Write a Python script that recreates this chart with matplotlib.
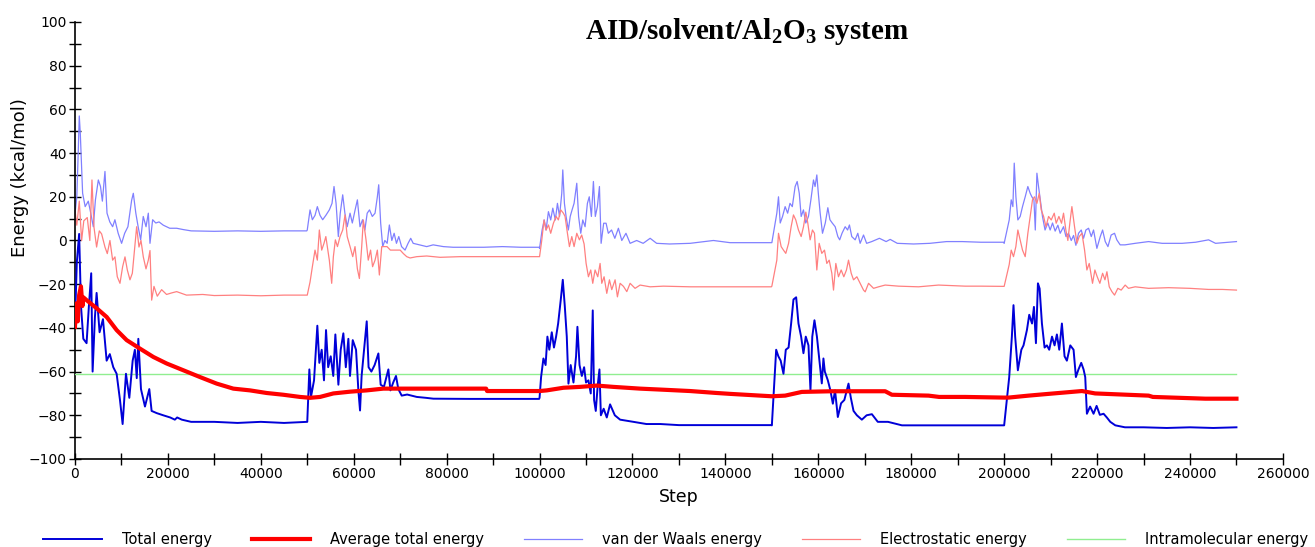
import matplotlib
matplotlib.use("Agg")
import matplotlib.pyplot as plt
from matplotlib.ticker import MultipleLocator

# ---------------- data ----------------
total_steps = [0, 400, 900, 1300, 1800, 2500, 3000, 3500, 3800, 4300, 4660, 5300, 6030, 6820, 7500, 8250,
               8970, 9690, 10260, 10980, 11700, 12420, 12900, 13300, 13640, 14210, 15070, 16000, 16500,
               17590, 19000, 20500, 21500, 22000, 23000, 25000, 30000, 35000, 40000, 45000, 49900,
               50000, 50450, 50800, 51460, 52170, 52600, 53110, 53600, 54040, 54500, 55050, 55600, 56050,
               56700, 57200, 57770, 58300, 58850, 59200, 59790, 60500, 61000, 61360, 61700, 62220, 62800,
               63200, 63800, 64500, 65310, 65800, 66500, 67460, 67900, 68500, 69100, 69600, 70330, 71500,
               73570, 75500, 77150, 85000, 90000, 99900,
               100000, 100330, 100830, 101300, 101690, 102100, 102630, 103100, 103560, 104000, 104570,
               105000, 105430, 105860, 106220, 106700, 107300, 107860, 108150, 108600, 109100, 109590,
               110000, 110520, 111020, 111450, 111740, 112100, 112530, 112890, 113200, 113800, 114470,
               115180, 116200, 117340, 118800, 120200, 123000, 126000, 130000, 140000, 149900,
               150000, 150930, 151400, 151900, 152500, 153000, 153600, 154150, 154650, 155230, 155730,
               156300, 156800, 157300, 157880, 158310, 158700, 159170, 159700, 160200, 160750, 161100,
               161400, 162050, 162600, 163130, 163600, 164200, 164900, 165600, 166500, 167000, 167580,
               168300, 169370, 170400, 171530, 172800, 175000, 178000, 190000, 199900,
               200000, 201090, 201660, 202010, 202370, 202950, 203700, 204170, 204900, 205400, 206000,
               206410, 206840, 207270, 207630, 208130, 208700, 209200, 209700, 210300, 210850, 211350,
               211860, 212430, 213000, 213500, 214230, 214940, 215440, 216000, 216590, 217090, 217450,
               217810, 218500, 219240, 219900, 220600, 221400, 222100, 222840, 223920, 226000, 230000,
               235000, 240000, 245000, 250000]
total_energy = [-38, -10, 3, -30, -45, -47, -30, -15, -60, -35, -24, -42, -36, -55, -52, -58,
                -61, -73, -84, -61, -72, -55, -50, -63, -45, -68, -76, -68, -78,
                -79, -80, -81, -82, -81, -82, -83, -83, -83.5, -83, -83.5, -83,
                -83, -59, -71.6, -64, -39, -56, -50, -64, -41, -58, -53, -62, -43,
                -66, -50, -42.5, -58, -45, -62, -45.6, -50, -68.6, -77.8, -62, -50, -37,
                -58, -60, -57, -51.7, -66, -67, -59, -68.6, -65, -62, -68, -71, -70.5,
                -71.6, -72, -72.4, -72.5, -72.5, -72.5,
                -72, -62.5, -54, -57, -44, -50, -42, -49, -44, -38, -27,
                -18, -30, -44, -65.5, -57, -65, -53, -39.5, -57, -62, -58,
                -65, -64, -70, -32, -73, -78, -66, -59, -80, -77, -81,
                -75, -80, -82, -82.5, -83, -84, -84, -84.5, -84.5, -84.5,
                -84.6, -50, -53, -55, -61, -50, -49, -38, -27, -26, -38,
                -44, -51.6, -44, -48, -68.6, -44, -36.5, -44, -54, -65.4, -54,
                -60, -64, -68.6, -74.7, -68.6, -80.8, -74.5, -73, -65.5, -72, -78,
                -80, -82, -80, -79.5, -83, -83, -84.6, -84.6, -84.6,
                -84.6, -62.5, -44, -29.6, -44, -59.4, -50, -48, -41, -34, -38,
                -30.4, -47, -19.6, -22, -38, -49, -48, -50, -44, -48, -43,
                -50, -38, -53, -55, -48, -50, -62.5, -59, -56, -59, -62.5,
                -79.3, -76, -79.3, -75.7, -79.8, -79.3, -81, -83, -84.6, -85.5, -85.5,
                -85.8, -85.5, -85.8, -85.5]

avg_steps = [0, 300, 600, 900, 1290, 1600, 1800, 2500, 4660, 6820, 8970, 11130, 14000, 16870, 19740,
             23330, 26910, 30500, 34080, 37670, 41270, 44850, 48440, 50600, 52750, 55620, 59210,
             62800, 66380, 70690, 80000, 88500, 88700, 100000, 101560, 105130, 108730, 112320,
             115900, 121640, 126660, 132400, 138160, 141020, 150000, 152860, 156450, 162910,
             174390, 175830, 183720, 186000, 191610, 200000, 200940, 205250, 209550, 216740,
             219600, 231090, 232000, 243290, 250000]
avg_energy = [-39.5, -28.8, -37, -25, -21, -30, -26, -27.3, -31, -35, -41, -45.6, -49.5, -53.3, -56.3,
              -59.4, -62.5, -65.5, -67.8, -68.6, -69.8, -70.6, -71.6, -72, -71.6, -70, -69.2,
              -68.6, -67.8, -67.8, -67.8, -67.8, -68.9, -68.9, -68.6, -67.4, -67, -66.4,
              -67, -67.8, -68.3, -68.9, -69.8, -70.2, -71.3, -71, -69.3, -69,
              -69, -70.6, -71, -71.6, -71.6, -71.9, -71.9, -71, -70.2, -68.9,
              -70, -71, -71.6, -72.4, -72.4]

vdw_steps = [0, 400, 700, 930, 1150, 1650, 2200, 2870, 3400, 3950, 4400, 5030, 5500, 5900, 6460, 6900,
             7500, 8110, 8600, 9300, 10040, 10700, 11400, 12200, 12560, 13100, 13600, 14140, 14700,
             15300, 15790, 16150, 16720, 17400, 18100, 19020, 20400, 21890, 23300, 25000, 30000,
             35000, 40000, 45000, 49900,
             50000, 50600, 51100, 51670, 52170, 52750, 53320, 54000, 54750, 55330, 55760, 56200,
             56690, 57100, 57630, 58100, 58600, 59210, 59700, 60300, 60790, 61350, 61900, 62400,
             62900, 63400, 64000, 64590, 65090, 65380, 65800, 66240, 66700, 67200, 67670, 68200,
             68700, 69200, 69700, 70300, 71050, 71700, 72270, 72800, 74200, 75710, 77100, 79300,
             81400, 84330, 88000, 92000, 96000, 99900,
             100000, 100550, 101000, 101400, 101910, 102400, 102850, 103400, 103850, 104300, 104780,
             105000, 105350, 105710, 106200, 106600, 107000, 107430, 108010, 108400, 108870, 109300,
             109800, 110300, 110700, 111160, 111590, 112000, 112450, 112890, 113250, 113800, 114320,
             114800, 115500, 116200, 116970, 117700, 118600, 119490, 120900, 122300, 123800, 125200,
             128000, 132400, 137420, 141000, 145000, 149900,
             150000, 151070, 151430, 151800, 152300, 152860, 153400, 153900, 154400, 155010, 155450,
             155900, 156310, 156800, 157300, 157880, 158400, 158960, 159300, 159680, 160000, 160400,
             160900, 161500, 162050, 162500, 163000, 163630, 164200, 164600, 165100, 165780, 166300,
             166700, 167200, 167930, 168500, 169000, 169730, 170400, 171500, 173150, 174600, 175470,
             177000, 180500, 184000, 187600, 191000, 195000, 199900,
             200000, 201090, 201520, 201880, 202170, 202530, 202950, 203450, 203950, 204530, 205100,
             205600, 205960, 206410, 206700, 207050, 207400, 207780, 208250, 208800, 209400, 209900,
             210410, 210980, 211560, 212060, 212780, 213300, 213850, 214440, 214940, 215440, 216010,
             216590, 217090, 217590, 218170, 218750, 219240, 219960, 220690, 221190, 221760, 222340,
             223030, 223760, 224250, 224970, 226000, 228200, 231090, 234000, 238300, 241200, 244000,
             245500, 250000]
vdw_energy = [12, 20, 40, 57, 49, 21.6, 15.5, 18, 12.5, 6.3, 18.5, 27.7, 24.7, 18, 31.6, 12.5,
              8.5, 6.3, 9.5, 3.3, -1.3, 3.3, 6.3, 18.4, 21.6, 12.5, 6.3, 0.3, 11,
              6.3, 12.5, -1.3, 9.5, 8, 8.5, 7, 5.6, 5.6, 5, 4.4, 4.2,
              4.4, 4.2, 4.4, 4.4,
              4.8, 14, 9.5, 11.5, 15.5, 11.5, 9.5, 11.5, 14, 17, 24.7, 17,
              1.8, 12.5, 20.9, 12.5, 6.3, 12.5, 8, 14, 18.6, 6.3, 9.5, 4.8,
              12.5, 14, 11, 12.5, 20, 25.5, 8, -2.8, 0, -1.3, 7.1, 0,
              3.3, -1.3, 1.8, -2.8, -4.4, -1.3, 1, -1.3, -2, -2.8, -2, -2.8,
              -3.1, -3.1, -3.1, -2.8, -3.1, -3.1,
              -3.6, 4.8, 9.4, 4.8, 13.2, 9.4, 14.8, 9.4, 17, 11, 21.6,
              32.3, 17, 11, 4.8, 11, 14, 17, 26.2, 11, 3.3, 9.4,
              6.3, 17, 20, 11, 27, 11, 15.5, 24.7, -1.3, 7.9, 7.9,
              3.3, 4.8, 1, 5.6, 0, 3.3, -1.3, 0, -1.3, 1, -1.3,
              -1.6, -1.3, 0, -1, -1, -1,
              -1, 12.5, 20, 8, 11, 15.5, 12.5, 17, 15.5, 24.7, 27,
              21.6, 11, 14, 8, 11, 18.6, 27.7, 24.7, 30, 21.6, 12.5,
              3.3, 8, 15, 9.5, 8, 6.3, 1.8, 0.3, 3.3, 6.3, 4.8,
              7.1, 1.8, 0.3, 3.3, -1.3, 2.5, -1.3, -0.5, 1, -0.5, 0.5,
              -1.3, -1.6, -1.3, -0.5, -0.5, -0.8, -0.8,
              -1.3, 9.4, 18.6, 15.5, 35.4, 20, 9.4, 11, 15.5, 20, 24.7,
              21.6, 20, 18.6, 4.8, 30.8, 24.7, 18.6, 11, 4.8, 8, 4.8,
              8, 4.3, 7, 3.3, 6.3, 1.8, 3.3, 0, 2.3, -2.2, 3.3,
              4.8, 1, 4.8, 5.6, 1.8, 4.8, -3.6, 1.8, 4.8, -0.5, -2.8,
              2.5, 3.3, 0.3, -2, -2, -1.3, -0.5, -1.3, -1.3, -0.8, 0.3,
              -1.3, -0.5]

elec_steps = [0, 400, 930, 1440, 1900, 2650, 3200, 3660, 4100, 4660, 5240, 5740, 6460, 6960, 7530,
              8110, 8610, 9110, 9690, 10260, 10770, 11270, 11840, 12350, 12920, 13280, 13780, 14210,
              14710, 15290, 15790, 16150, 16510, 17010, 17720, 18650, 19720, 20800, 21890, 24000,
              27500, 30000, 35000, 40000, 45000, 49900,
              50000, 50600, 51100, 51670, 52170, 52600, 53110, 53600, 54000, 54750, 55260, 55620,
              56050, 56500, 57060, 57630, 58130, 58600, 59210, 59790, 60280, 60790, 61220, 61720,
              62070, 62650, 63130, 63630, 64060, 64590, 65090, 65520, 66030, 66600, 67170, 67890,
              68600, 69260, 70000, 70690, 71410, 72130, 73570, 75710, 78580, 82900, 88640, 94000, 99900,
              100000, 100470, 100960, 101400, 101920, 102400, 102980, 103560, 104050, 104560, 105130,
              105490, 106000, 106430, 106940, 107430, 108010, 108580, 109070, 109590, 110020, 110520,
              111020, 111450, 111950, 112530, 113030, 113390, 113890, 114470, 115040, 115540, 116260,
              116760, 117340, 118060, 118780, 119490, 120560, 121640, 123800, 126660, 132400, 138160,
              141020, 145000, 149900,
              150000, 151070, 151430, 152000, 152500, 153000, 153600, 154150, 154650, 155150, 155730,
              156310, 156810, 157310, 157740, 158240, 158740, 159170, 159680, 160180, 160750, 161330,
              161830, 162340, 162910, 163270, 163770, 164340, 164920, 165490, 166060, 166500, 167080,
              167580, 168300, 169010, 169730, 170090, 170810, 171890, 172970, 174390, 177260, 181570,
              185870, 191610, 195000, 199900,
              200000, 201090, 201520, 202010, 202520, 202950, 203450, 203950, 204530, 205100, 205600,
              206100, 206530, 207050, 207550, 207980, 208490, 209000, 209560, 210130, 210780, 211200,
              211780, 212350, 212780, 213280, 213710, 214220, 214580, 215150, 215660, 216160, 216740,
              217310, 217810, 218310, 219020, 219530, 220030, 220600, 221190, 221700, 222120, 222620,
              223190, 223760, 224470, 225190, 226050, 226760, 228200, 231090, 235400, 240000, 244000,
              247000, 250000]
elec_energy = [14, 7, 18, 0, 9, 10.5, 0, 27.7, 6, -3, 4.4, 3, -3, -6, 0,
               -9, -7.5, -16.6, -19.6, -12, -7.5, -13.5, -18, -15, -1.6, 6.3, -3, 0,
               -7.5, -13, -9, -4.6, -27.3, -21, -25.5, -22.5, -24.7, -24, -23.4, -25,
               -24.7, -25.2, -25, -25.3, -25, -25,
               -25, -19, -12, -4.4, -9, 4.8, -4.4, -1.3, 1.8, -9, -19.6, -7.4,
               0.3, -2.8, 1.8, 4.8, 11.7, 1.8, -2.8, -7.4, -2.8, -13, -17.4, -2.8,
               9.4, 0.3, -9, -4.4, -12, -9, -4.4, -15.8, -2.8, -2.8, -2.8, -4.4,
               -4.4, -4.4, -4.4, -6, -7.4, -8, -7.4, -7.1, -7.7, -7.4, -7.4, -7.4, -7.4,
               -7.4, 0, 9.4, 4.8, 7.1, 3.3, 7.9, 11, 9.4, 14, 12.5,
               11, 3.3, -2.8, 1.8, -2.8, 3.3, 0.3, 2.5, -1.6, -10.5, -16.6,
               -13.5, -19.6, -13.5, -16.6, -10.5, -19.6, -16.6, -24.2, -18, -22.5, -18,
               -25.8, -19.6, -21, -23.4, -19.6, -21.9, -20.4, -21.2, -20.9, -21.2, -21.2,
               -21.2, -21.2, -21.2,
               -20.9, -9, 3.3, -2.8, -4.4, -5.9, -1.3, 6.3, 11.7, 9.4, 4.8,
               1.8, 6.3, 13, 7.9, 0.3, 4.8, 3.3, -13.5, -1.3, -5.9, -4.4,
               -10.5, -9, -15, -22.7, -10.5, -16.6, -13.5, -16.6, -13.5, -9, -15,
               -18, -16.6, -19.6, -22.7, -23.5, -19.6, -21.9, -21.2, -20.4, -20.9, -21.2,
               -20.4, -20.9, -20.9, -21,
               -21, -11, -4.4, -7.4, -2.8, 4.8, 0.3, -4.4, -7.4, 3.3, 11,
               18.6, 20, 17, 21.6, 14, 11, 6.3, 11, 9.4, 12.5, 7.9,
               11, 7.9, 12.5, 4.8, 0, 9.4, 15.5, 6.3, -1.3, 1.8, 3.3,
               -4.4, -13.5, -10.5, -19.6, -13.5, -16.6, -19.6, -15, -18, -14.3, -21.2,
               -23.4, -25, -21.9, -22.7, -20.4, -21.9, -21.2, -21.9, -21.6, -21.9, -22.4,
               -22.4, -22.7]

intra_steps = [0, 250000]
intra_energy = [-61, -61]

x_ticks = [0, 20000, 40000, 60000, 80000, 100000, 120000, 140000, 160000, 180000, 200000,
           220000, 240000, 260000]
y_ticks = [-100, -80, -60, -40, -20, 0, 20, 40, 60, 80, 100]

# ---------------- figure ----------------
plt.rcParams['font.family'] = ['DejaVu Sans']
fig = plt.figure(figsize=(13.15, 5.47), dpi=100)
ax = fig.add_axes([0.0570, 0.1609, 0.9186, 0.7989])

l_vdw, = ax.plot(vdw_steps, vdw_energy, color='#8080ff', lw=0.9, label='van der Waals energy', zorder=2)
l_elec, = ax.plot(elec_steps, elec_energy, color='#ff8080', lw=0.9, label='Electrostatic energy', zorder=2)
l_intra, = ax.plot(intra_steps, intra_energy, color='#90ee90', lw=1.0, label='Intramolecular energy', zorder=3)
l_tot, = ax.plot(total_steps, total_energy, color='#0000d8', lw=1.4, label='Total energy', zorder=4)
l_avg, = ax.plot(avg_steps, avg_energy, color='#ff0000', lw=3.0, label='Average total energy', zorder=5)

ax.set_xlim(0, 260000)
ax.set_ylim(-100, 100)
ax.set_xticks(x_ticks)
ax.set_yticks(y_ticks)
ax.xaxis.set_minor_locator(MultipleLocator(10000))
ax.yaxis.set_minor_locator(MultipleLocator(10))
for s in ['top', 'right']:
    ax.spines[s].set_visible(False)
for s in ['left', 'bottom']:
    ax.spines[s].set_linewidth(1.2)
ax.tick_params(which='both', direction='inout', length=8, width=1.0, labelsize=10, colors='black')
ax.tick_params(which='major', pad=2)

ax.set_xlabel('Step', fontsize=12.5, labelpad=5)
ax.set_ylabel('Energy (kcal/mol)', fontsize=13)
ax.yaxis.set_label_coords(-0.038, 0.645)

fig.text(0.568, 0.9415, r'AID/solvent/Al$\mathregular{_2}$O$\mathregular{_3}$ system',
         ha='center', va='center', fontsize=21, fontweight='bold', family='Liberation Serif')

handles = [l_tot, l_avg, l_vdw, l_elec, l_intra]
leg = fig.legend(handles, [h.get_label() for h in handles], loc='lower center', ncol=5,
                 bbox_to_anchor=(0.514, -0.024), frameon=False, fontsize=10.5, handlelength=4.0,
                 columnspacing=2.7, handletextpad=1.4)

fig.savefig('out.png', dpi=100)
